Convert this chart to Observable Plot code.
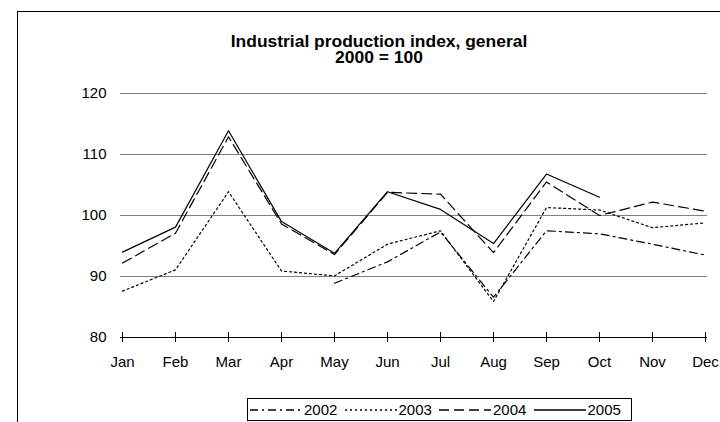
<!DOCTYPE html>
<html>
<head>
<meta charset="utf-8">
<script src="https://cdn.jsdelivr.net/npm/d3@7"></script>
<script src="https://cdn.jsdelivr.net/npm/@observablehq/plot@0.6"></script>
<style>
  html, body { margin: 0; padding: 0; background: #fff; }
  body { width: 720px; height: 422px; overflow: hidden; position: relative;
         font-family: "Liberation Sans", Arial, sans-serif; color: #000; }
  #chart { position: absolute; left: 0; top: 0; }
  #frame { position: absolute; left: 17px; top: 11px; width: 800px; height: 600px;
           border: 1px solid #000; background: transparent; pointer-events: none; }
  #title { position: absolute; left: 0; top: 34px; width: 758px; text-align: center;
           font-weight: bold; font-size: 16px; line-height: 16px;
           transform: scaleX(1.09); transform-origin: 379px 0; }
  #legend { position: absolute; left: 247px; top: 398px; width: 383px; height: 21px;
            border: 1px solid #000; display: flex; align-items: center; font-size: 15px; }
  .item { display: flex; align-items: center; width: 94.5px; }
  .item svg { margin-left: 2px; margin-right: 2px; }
</style>
</head>
<body>
<div id="chart"></div>
<div id="title">Industrial production index, general<br>2000 = 100</div>
<div id="legend"></div>
<div id="frame"></div>
<script>
const months = ["Jan","Feb","Mar","Apr","May","Jun","Jul","Aug","Sep","Oct","Nov","Dec"];
const years = ["2002","2003","2004","2005"];
const v2002 = [null, null, null, null, 88.9, 92.4, 97.3, 86.6, 97.5, 97.0, 95.3, 93.5];
const v2003 = [87.6, 91.1, 103.9, 90.9, 90.1, 95.3, 97.5, 85.9, 101.3, 100.9, 98.0, 98.8];
const v2004 = [92.2, 97.1, 112.9, 98.6, 93.6, 103.8, 103.5, 93.9, 105.5, 100.0, 102.2, 100.7];
const v2005 = [94.0, 98.1, 113.9, 99.0, 93.8, 103.9, 101.0, 95.4, 106.8, 103.0, null, null];
const yTicks = [80, 90, 100, 110, 120];
const gridTicks = [90, 100, 110, 120];

const dashes = {"2002": "8,4,2,4", "2003": "2,3", "2004": "10,5", "2005": null};
const seriesValues = {"2002": v2002, "2003": v2003, "2004": v2004, "2005": v2005};

const rows = years.flatMap(y => seriesValues[y]
  .map((v, i) => ({year: y, month: months[i], value: v}))
  .filter(d => d.value != null));

const lineMarks = years.map(y => Plot.line(rows.filter(d => d.year === y), {
  x: "month", y: "value", stroke: "#000", strokeWidth: 1.2,
  strokeDasharray: dashes[y] || undefined
}));

const chart = Plot.plot({
  width: 720,
  height: 422,
  marginLeft: 120,
  marginRight: 13,
  marginTop: 93,
  marginBottom: 85,
  style: {fontFamily: "'Liberation Sans', Arial, sans-serif", fontSize: "15px", color: "#000", background: "#fff"},
  x: {type: "point", domain: months, padding: 0},
  y: {domain: [80, 120]},
  marks: [
    Plot.ruleY(gridTicks, {stroke: "#808080", strokeWidth: 1}),
    Plot.ruleY([80], {stroke: "#000", strokeWidth: 1}),
    Plot.ruleX(months, {x: d => d, y1: 80, y2: 80, insetTop: -5, insetBottom: -5, stroke: "#000"}),
    Plot.axisY(yTicks, {tickSize: 0, tickPadding: 14, label: null, fontSize: 15}),
    Plot.axisX({tickSize: 0, tickPadding: 19, label: null, fontSize: 15}),
    ...lineMarks
  ]
});
document.getElementById("chart").appendChild(chart);

const legend = document.getElementById("legend");
years.forEach(y => {
  const item = document.createElement("div");
  item.className = "item";
  const dash = dashes[y] ? ` stroke-dasharray="${dashes[y]}"` : "";
  item.innerHTML = `<svg width="52" height="10"><line x1="0" y1="5" x2="52" y2="5" stroke="#000" stroke-width="1.4"${dash}/></svg><span>${y}</span>`;
  legend.appendChild(item);
});
</script>
</body>
</html>
